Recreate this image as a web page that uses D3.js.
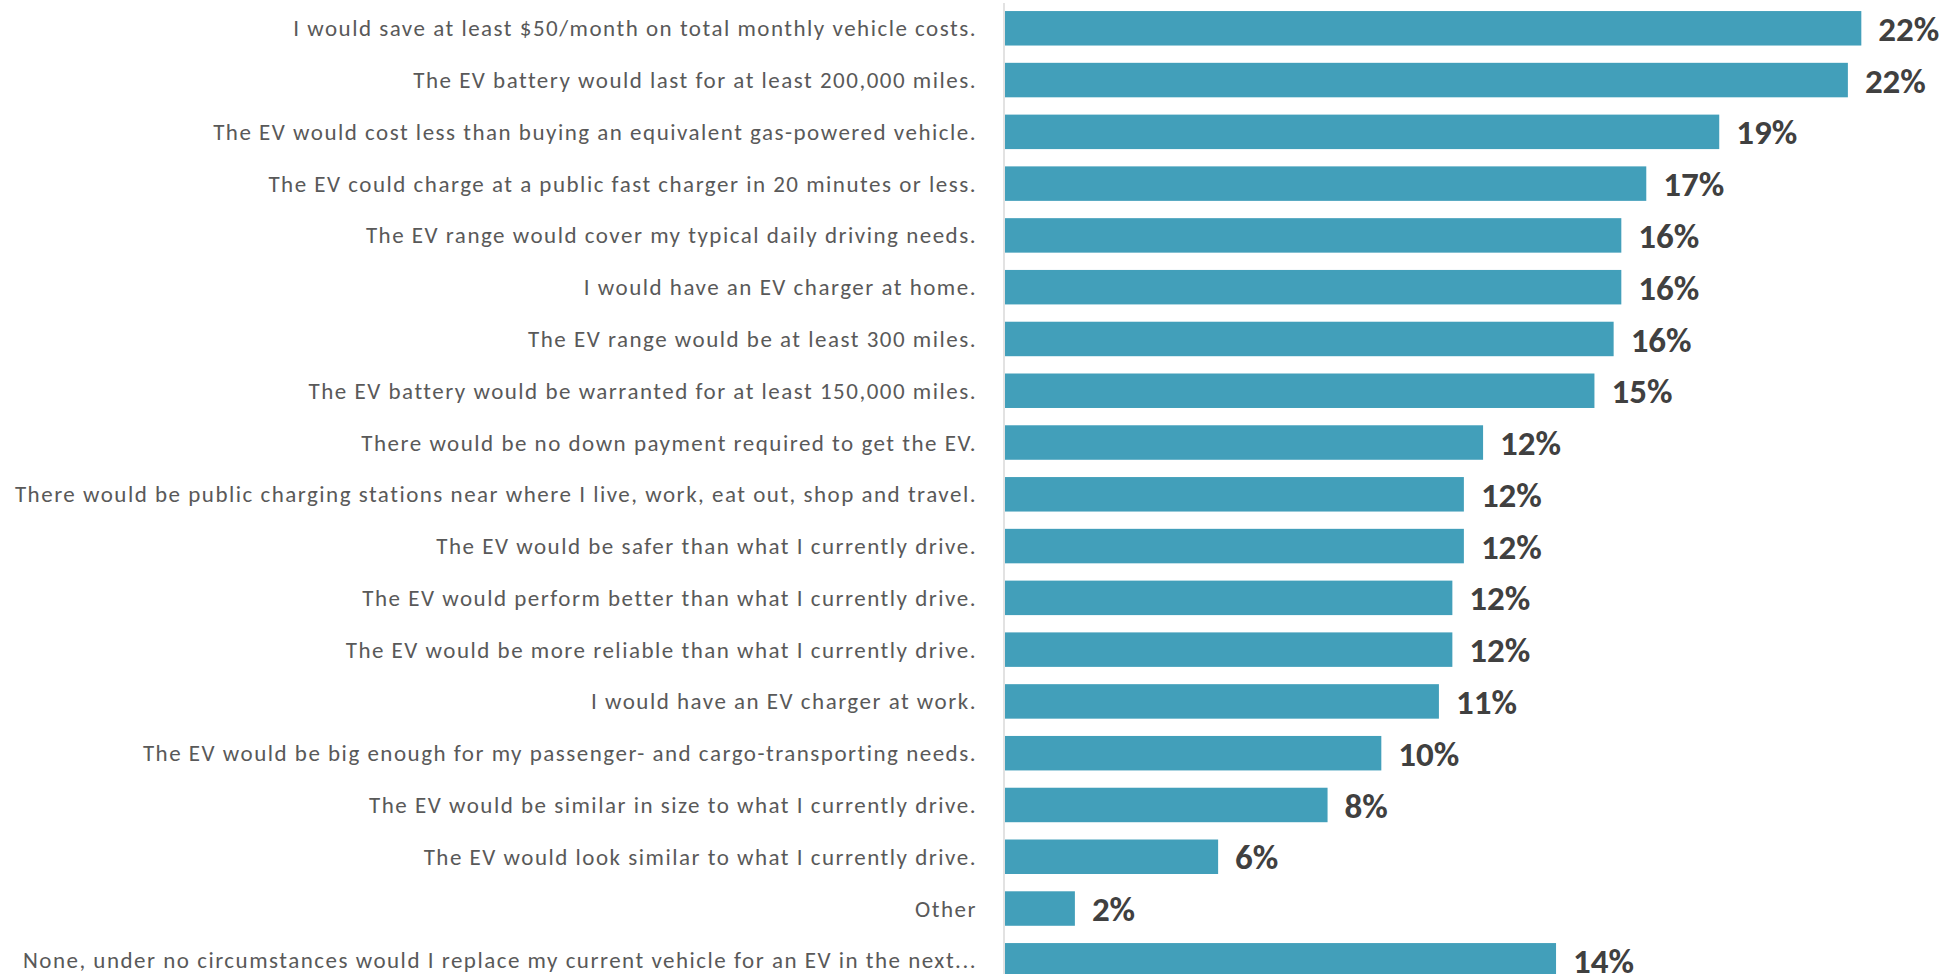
<!DOCTYPE html>
<html>
<head>
<meta charset="utf-8">
<script src="https://cdn.jsdelivr.net/npm/d3@7"></script>
<style>
  html, body { margin: 0; padding: 0; background: #ffffff; overflow: hidden; }
  svg { display: block; }
  .cat { font-family: Carlito, Calibri, Lato, "Liberation Sans", sans-serif; fill: #595959; letter-spacing: 1.5px; }
  .val { font-family: Carlito, Calibri, Lato, "Liberation Sans", sans-serif; font-weight: bold; fill: #404040; }
</style>
</head>
<body>
<svg id="chart" width="1957" height="974"></svg>
<script>
// Reasons respondents would replace their current vehicle with an EV
const categories = [
  "I would save at least $50/month on total monthly vehicle costs.",
  "The EV battery would last for at least 200,000 miles.",
  "The EV would cost less than buying an equivalent gas-powered vehicle.",
  "The EV could charge at a public fast charger in 20 minutes or less.",
  "The EV range would cover my typical daily driving needs.",
  "I would have an EV charger at home.",
  "The EV range would be at least 300 miles.",
  "The EV battery would be warranted for at least 150,000 miles.",
  "There would be no down payment required to get the EV.",
  "There would be public charging stations near where I live, work, eat out, shop and travel.",
  "The EV would be safer than what I currently drive.",
  "The EV would perform better than what I currently drive.",
  "The EV would be more reliable than what I currently drive.",
  "I would have an EV charger at work.",
  "The EV would be big enough for my passenger- and cargo-transporting needs.",
  "The EV would be similar in size to what I currently drive.",
  "The EV would look similar to what I currently drive.",
  "Other",
  "None, under no circumstances would I replace my current vehicle for an EV in the next..."
];

// Share of respondents (%)
const values = [22.3, 21.95, 18.6, 16.7, 16.05, 16.05, 15.85, 15.35, 12.45, 11.95,
                11.95, 11.65, 11.65, 11.3, 9.8, 8.4, 5.55, 1.82, 14.35];

const W = 1957, H = 974;
const svg = d3.select("#chart");

const barLeft = 1005;
const pxPerPoint = 38.4;
const x = d3.scaleLinear()
  .domain([0, 24])
  .range([barLeft, barLeft + 24 * pxPerPoint]);

const y = d3.scaleBand()
  .domain(categories)
  .range([2.4, 986.2])
  .paddingInner(0.334)
  .paddingOuter(0.167);

const data = categories.map((c, i) => ({ cat: c, v: values[i] }));

// Vertical category axis line
svg.append("line")
  .attr("x1", barLeft - 1).attr("x2", barLeft - 1)
  .attr("y1", 3).attr("y2", H)
  .attr("stroke", "#d9d9d9")
  .attr("stroke-width", 1.5);

// Bars
svg.append("g").selectAll("rect")
  .data(data)
  .join("rect")
  .attr("x", x(0))
  .attr("y", d => y(d.cat))
  .attr("width", d => x(d.v) - x(0))
  .attr("height", y.bandwidth())
  .attr("fill", "#429fba");

// Category labels
svg.append("g").selectAll("text")
  .data(data)
  .join("text")
  .attr("class", "cat")
  .attr("x", barLeft - 28)
  .attr("y", d => y(d.cat) + y.bandwidth() / 2)
  .attr("dy", "0.35em")
  .attr("text-anchor", "end")
  .attr("font-size", 23)
  .text(d => d.cat);

// Value labels
svg.append("g").selectAll("text")
  .data(data)
  .join("text")
  .attr("class", "val")
  .attr("x", d => x(d.v) + 17)
  .attr("y", d => y(d.cat) + y.bandwidth() / 2)
  .attr("dy", "0.36em")
  .attr("font-size", 35)
  .text(d => Math.round(d.v) + "%");
</script>
</body>
</html>
